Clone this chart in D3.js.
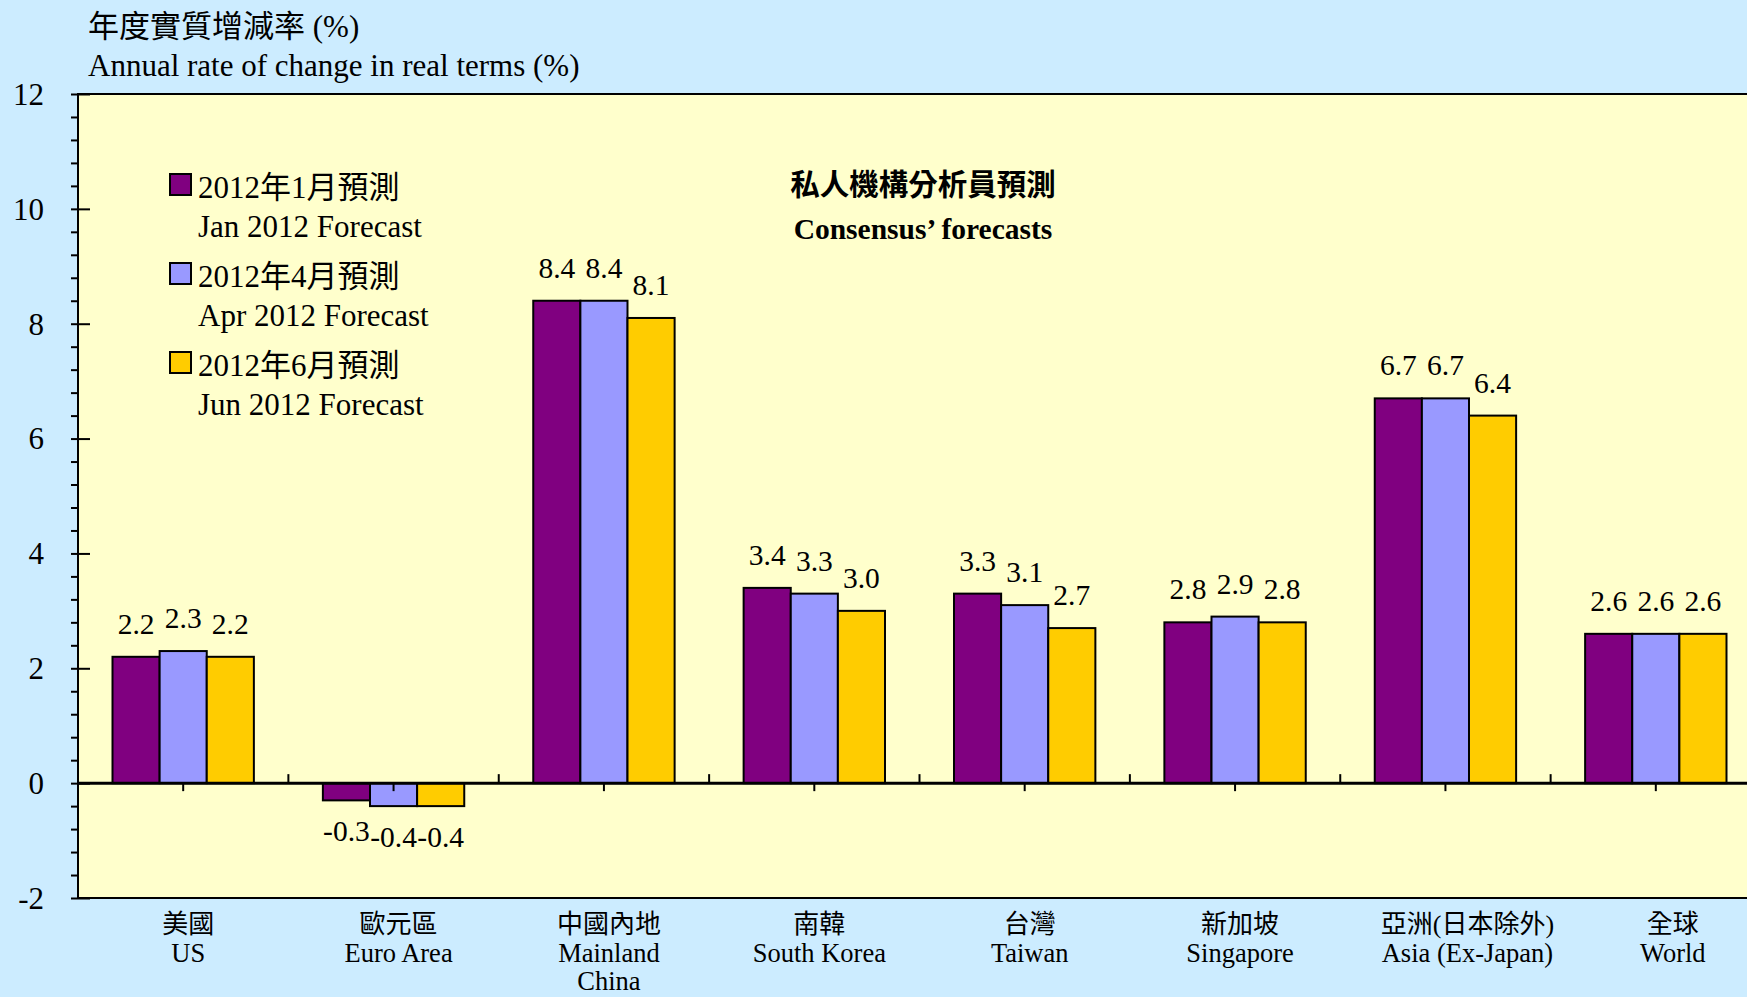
<!DOCTYPE html>
<html>
<head>
<meta charset="utf-8">
<script src="https://cdn.jsdelivr.net/npm/d3@7"></script>
<style>
  html, body { margin: 0; padding: 0; background: #CCECFF; }
  svg { display: block; }
  text { font-family: "Liberation Serif", "Times New Roman", "Noto Sans CJK TC", serif; fill: #000; }
</style>
</head>
<body>
<svg id="chart"></svg>
<script>
const categoriesZh = ['美國', '歐元區', '中國內地', '南韓', '台灣', '新加坡', '亞洲(日本除外)', '全球'];
const categoriesEn = [['US'], ['Euro Area'], ['Mainland', 'China'], ['South Korea'], ['Taiwan'], ['Singapore'], ['Asia (Ex-Japan)'], ['World']];

const janForecast = [2.2, -0.3, 8.4, 3.4, 3.3, 2.8, 6.7, 2.6];
const aprForecast = [2.3, -0.4, 8.4, 3.3, 3.1, 2.9, 6.7, 2.6];
const junForecast = [2.2, -0.4, 8.1, 3.0, 2.7, 2.8, 6.4, 2.6];

const seriesNames = ['jan', 'apr', 'jun'];
const seriesLabelsZh = ['2012年1月預測', '2012年4月預測', '2012年6月預測'];
const seriesLabelsEn = ['Jan 2012 Forecast', 'Apr 2012 Forecast', 'Jun 2012 Forecast'];
const seriesColors = ['#800080', '#9999FF', '#FFCC00'];

const yMajorTicks = [-2, 0, 2, 4, 6, 8, 10, 12];

const width = 1747;
const height = 997;
const plot = { left: 78, top: 94, bottom: 898, right: 1761 };

const svg = d3.select('#chart').attr('width', width).attr('height', height);

svg.append('rect').attr('width', width).attr('height', height).attr('fill', '#CCECFF');

const rows = categoriesZh.map((c, i) => ({
  key: c,
  values: [janForecast[i], aprForecast[i], junForecast[i]]
}));

const x = d3.scaleBand()
  .domain(categoriesZh)
  .range([plot.left, plot.right])
  .padding(0);

const groupW = x.bandwidth() * 0.672;
const x1 = d3.scaleBand()
  .domain(seriesNames)
  .range([(x.bandwidth() - groupW) / 2, (x.bandwidth() + groupW) / 2])
  .padding(0);

const y = d3.scaleLinear()
  .domain([-2, 12])
  .range([plot.bottom, plot.top]);

// hyphen instead of unicode minus, like the original
const fmt = v => d3.format('.1f')(v).replace('\u2212', '-');

// plot area
svg.append('rect')
  .attr('x', plot.left)
  .attr('y', plot.top)
  .attr('width', plot.right - plot.left)
  .attr('height', plot.bottom - plot.top)
  .attr('fill', '#FFFFCC')
  .attr('stroke', '#000')
  .attr('stroke-width', 2);

// bars
const groups = svg.append('g')
  .selectAll('g')
  .data(rows)
  .join('g')
  .attr('transform', d => `translate(${x(d.key)},0)`);

groups.selectAll('rect')
  .data(d => d.values.map((v, i) => ({ s: seriesNames[i], v, i })))
  .join('rect')
  .attr('x', d => x1(d.s))
  .attr('y', d => y(Math.max(0, d.v)))
  .attr('width', x1.bandwidth())
  .attr('height', d => Math.abs(y(d.v) - y(0)))
  .attr('fill', d => seriesColors[d.i])
  .attr('stroke', '#000')
  .attr('stroke-width', 2);

// value labels
groups.selectAll('text.val')
  .data(d => d.values.map((v, i) => ({ s: seriesNames[i], v })))
  .join('text')
  .attr('class', 'val')
  .attr('x', d => x1(d.s) + x1.bandwidth() / 2)
  .attr('y', d => d.v >= 0 ? y(d.v) - 23 : y(d.v) + 41)
  .attr('text-anchor', 'middle')
  .style('font-size', '29.5px')
  .text(d => fmt(d.v));

// zero line + x ticks
const y0 = y(0);
svg.append('line')
  .attr('x1', plot.left).attr('x2', plot.right)
  .attr('y1', y0).attr('y2', y0)
  .attr('stroke', '#000').attr('stroke-width', 3);

svg.append('g')
  .attr('transform', `translate(0,${y0})`)
  .call(d3.axisBottom(x).tickSize(8).tickFormat(''))
  .call(g => g.select('.domain').remove())
  .selectAll('line').attr('stroke', '#000').attr('stroke-width', 2);

svg.append('g')
  .selectAll('line')
  .data(categoriesZh.slice(1))
  .join('line')
  .attr('x1', d => x(d)).attr('x2', d => x(d))
  .attr('y1', y0).attr('y2', y0 - 9)
  .attr('stroke', '#000').attr('stroke-width', 2);

// y axis: minor ticks, major ticks (crossing), labels
svg.append('g')
  .attr('transform', `translate(${plot.left},0)`)
  .call(d3.axisLeft(y).tickValues(d3.range(-2, 12.01, 0.4)).tickSize(7).tickFormat(''))
  .call(g => g.select('.domain').remove())
  .selectAll('line').attr('stroke', '#000').attr('stroke-width', 2);

svg.append('g')
  .attr('transform', `translate(${plot.left},0)`)
  .call(d3.axisRight(y).tickValues(yMajorTicks).tickSize(12).tickFormat(''))
  .call(g => g.select('.domain').remove())
  .selectAll('line').attr('stroke', '#000').attr('stroke-width', 2);

svg.append('g')
  .selectAll('text')
  .data(yMajorTicks)
  .join('text')
  .attr('x', 44)
  .attr('y', d => y(d))
  .attr('dy', '0.35em')
  .attr('text-anchor', 'end')
  .style('font-size', '31px')
  .text(d => d);

// category labels (the last two sit a little right of their ticks in the original)
const labelNudge = i => (i === 6 ? 22 : i === 7 ? 17 : 5);
const catLabels = svg.append('g')
  .selectAll('g')
  .data(categoriesZh)
  .join('g')
  .attr('transform', (d, i) => `translate(${x(d) + x.bandwidth() / 2 + labelNudge(i)},0)`);

catLabels.append('text')
  .attr('y', 933)
  .attr('text-anchor', 'middle')
  .style('font-size', '26px')
  .text(d => d);

catLabels.each(function(d, i) {
  d3.select(this).selectAll('text.en')
    .data(categoriesEn[i])
    .join('text')
    .attr('class', 'en')
    .attr('y', (t, j) => 962 + j * 28)
    .attr('text-anchor', 'middle')
    .style('font-size', '26.5px')
    .text(t => t);
});

// axis titles
svg.append('text').attr('x', 88).attr('y', 37).style('font-size', '31px').text('年度實質增減率 (%)');
svg.append('text').attr('x', 88).attr('y', 76).style('font-size', '31px').text('Annual rate of change in real terms (%)');

// chart title
svg.append('text').attr('x', 923).attr('y', 195).attr('text-anchor', 'middle')
  .style('font-size', '29.5px').style('font-weight', 'bold').text('私人機構分析員預測');
svg.append('text').attr('x', 923).attr('y', 239).attr('text-anchor', 'middle')
  .style('font-size', '29.5px').style('font-weight', 'bold').text('Consensus\u2019 forecasts');

// legend
const legend = svg.append('g')
  .selectAll('g')
  .data(seriesNames)
  .join('g')
  .attr('transform', (d, i) => `translate(170,${174 + i * 89})`);

legend.append('rect')
  .attr('width', 21).attr('height', 21)
  .attr('fill', (d, i) => seriesColors[i])
  .attr('stroke', '#000').attr('stroke-width', 2);

legend.append('text')
  .attr('x', 28).attr('y', 24)
  .style('font-size', '31px')
  .text((d, i) => seriesLabelsZh[i]);

legend.append('text')
  .attr('x', 28).attr('y', 63)
  .style('font-size', '31px')
  .text((d, i) => seriesLabelsEn[i]);
</script>
</body>
</html>
